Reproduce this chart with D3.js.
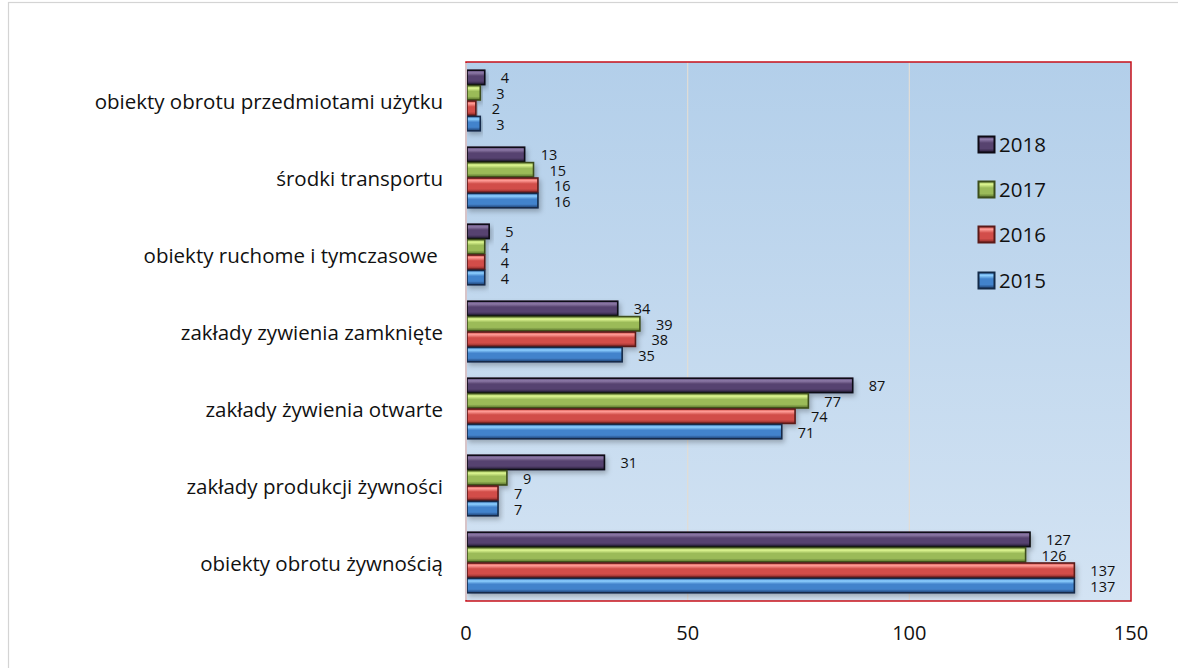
<!DOCTYPE html>
<html>
<head>
<meta charset="utf-8">
<script src="https://cdn.jsdelivr.net/npm/d3@7"></script>
<style>
  body { margin: 0; background: #fff; }
  svg { display: block; font-family: "Open Sans", Carlito, Lato, sans-serif; }
</style>
</head>
<body>
<svg id="chart" width="1178" height="668"></svg>
<script>
// ---- data ----
const categories = [
  "obiekty obrotu przedmiotami użytku",
  "środki transportu",
  "obiekty ruchome i tymczasowe ",
  "zakłady zywienia zamknięte",
  "zakłady żywienia otwarte",
  "zakłady produkcji żywności",
  "obiekty obrotu żywnością"
];
const seriesNames = ["2018", "2017", "2016", "2015"];
const values2018 = [4, 13, 5, 34, 87, 31, 127];
const values2017 = [3, 15, 4, 39, 77, 9, 126];
const values2016 = [2, 16, 4, 38, 74, 7, 137];
const values2015 = [3, 16, 4, 35, 71, 7, 137];
const xTicks = [0, 50, 100, 150];

(function () {
const seriesValues = { "2018": values2018, "2017": values2017, "2016": values2016, "2015": values2015 };
const palette = {
  "2018": { light: "#8e7aa8", mid: "#57436f", dark: "#261b36", stroke: "#0d0a14" },
  "2017": { light: "#dcf590", mid: "#9bbb59", dark: "#56702a", stroke: "#3c4e1c" },
  "2016": { light: "#ff9c96", mid: "#d24e4a", dark: "#8a2a27", stroke: "#5a1a18" },
  "2015": { light: "#8fd0ff", mid: "#4283cc", dark: "#1d3f70", stroke: "#132a48" }
};

const svg = d3.select("#chart");
const defs = svg.append("defs");

svg.append("rect").attr("x", 8.5).attr("y", 2.5).attr("width", 1200).attr("height", 700)
  .attr("fill", "none").attr("stroke", "#d4d4d4").attr("stroke-width", 1.2);

const pL = 466, pR = 1131, pT = 62, pB = 601;
const x = d3.scaleLinear().domain([0, 150]).range([pL, pR]);
const y = d3.scaleBand().domain(categories).range([pT, pB]).paddingInner(0.2).paddingOuter(0.1);
const ySub = d3.scaleBand().domain(seriesNames).range([0, y.bandwidth()]);

const bg = defs.append("linearGradient").attr("id", "bg").attr("x1", 0).attr("y1", 0).attr("x2", 0).attr("y2", 1);
bg.append("stop").attr("offset", "0%").attr("stop-color", "#b3cfea");
bg.append("stop").attr("offset", "100%").attr("stop-color", "#d3e3f3");
svg.append("rect").attr("x", pL).attr("y", pT).attr("width", pR - pL).attr("height", pB - pT)
  .attr("fill", "url(#bg)");

svg.append("g").selectAll("line").data(xTicks.filter(t => t > 0 && t < 150)).join("line")
  .attr("x1", d => x(d)).attr("x2", d => x(d)).attr("y1", pT).attr("y2", pB)
  .attr("stroke", "#e2ddd6").attr("stroke-width", 1.2);

seriesNames.forEach(s => {
  const c = palette[s];
  const g = defs.append("linearGradient").attr("id", "g" + s).attr("x1", 0).attr("y1", 0).attr("x2", 0).attr("y2", 1);
  g.append("stop").attr("offset", "0%").attr("stop-color", c.mid);
  g.append("stop").attr("offset", "18%").attr("stop-color", c.light);
  g.append("stop").attr("offset", "40%").attr("stop-color", c.mid);
  g.append("stop").attr("offset", "75%").attr("stop-color", c.mid);
  g.append("stop").attr("offset", "100%").attr("stop-color", c.dark);
});
const shadow = defs.append("filter").attr("id", "sh").attr("x", "-10%").attr("y", "-30%").attr("width", "130%").attr("height", "200%");
shadow.append("feDropShadow").attr("dx", 2).attr("dy", 3).attr("stdDeviation", 2.5).attr("flood-color", "#000").attr("flood-opacity", 0.25);

const groups = svg.append("g").selectAll("g").data(categories).join("g")
  .attr("transform", d => `translate(0,${y(d)})`);
groups.each(function(cat, i) {
  const g = d3.select(this);
  const rows = seriesNames.map(s => ({ s, v: seriesValues[s][i] }));
  g.selectAll("rect.bar").data(rows).join("rect").attr("class", "bar")
    .attr("x", x(0) + 1).attr("y", d => ySub(d.s) + 0.5)
    .attr("width", d => x(d.v) - x(0)).attr("height", ySub.bandwidth() - 1)
    .attr("fill", d => `url(#g${d.s})`).attr("stroke", d => palette[d.s].stroke).attr("stroke-width", 1.6)
    .attr("filter", "url(#sh)");
  g.selectAll("text.lbl").data(rows).join("text").attr("class", "lbl")
    .attr("x", d => x(d.v) + 17).attr("y", d => ySub(d.s) + ySub.bandwidth() / 2 + 0.5)
    .attr("dominant-baseline", "central").attr("font-size", 14.5).attr("fill", "#111")
    .text(d => d.v);
});

svg.append("rect").attr("x", pL).attr("y", pT).attr("width", pR - pL).attr("height", pB - pT)
  .attr("fill", "none").attr("stroke", "#c8101a").attr("stroke-width", 1.5);
svg.append("line").attr("x1", pL).attr("x2", pL).attr("y1", pT + 1).attr("y2", pB - 1)
  .attr("stroke", "#d8c4c8").attr("stroke-width", 2);

svg.append("g").selectAll("text").data(xTicks).join("text")
  .attr("x", d => x(d)).attr("y", 632).attr("text-anchor", "middle").attr("dominant-baseline", "central")
  .attr("font-size", 20).attr("fill", "#111").text(d => d);

svg.append("g").selectAll("text").data(categories).join("text")
  .attr("x", 443).attr("y", d => y(d) + y.bandwidth() / 2)
  .attr("text-anchor", "end").attr("dominant-baseline", "central")
  .style("white-space", "pre")
  .attr("font-size", 20.5).attr("fill", "#111").text(d => d);

const legendY = { "2018": 144, "2017": 189, "2016": 234, "2015": 280 };
const lg = svg.append("g").selectAll("g").data(seriesNames).join("g")
  .attr("transform", d => `translate(978,${legendY[d]})`);
lg.append("rect").attr("x", 0.5).attr("y", -7.5).attr("width", 16).attr("height", 16)
  .attr("fill", d => `url(#g${d})`).attr("stroke", d => palette[d].stroke).attr("stroke-width", 2);
lg.append("text").attr("x", 21).attr("y", 0).attr("dominant-baseline", "central")
  .attr("font-size", 20.5).attr("fill", "#111").text(d => d);
})();
</script>
</body>
</html>
